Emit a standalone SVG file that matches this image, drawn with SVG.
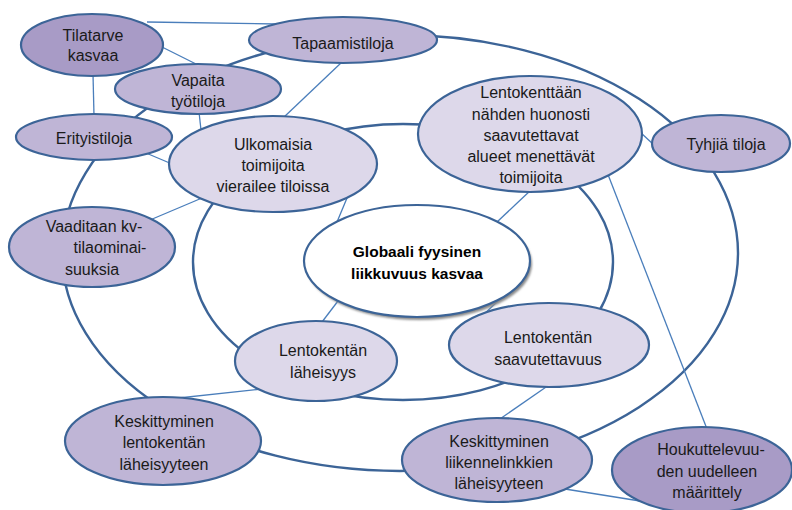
<svg xmlns="http://www.w3.org/2000/svg" width="792" height="510" viewBox="0 0 792 510">
  <style>
    .ring { fill: none; stroke: #3c6497; stroke-width: 2.4; }
    .link { fill: none; stroke: #4a7ebb; stroke-width: 1.3; }
    .node { stroke: #3c6497; stroke-width: 2.2; }
    .dark { fill: #a89bc6; }
    .mid { fill: #bfb5d6; }
    .light { fill: #ddd8ea; }
    .core { fill: #ffffff; }
    text { font-family: "Liberation Sans", Arial, sans-serif; font-size: 16px; fill: #1a1a1a; text-anchor: middle; }
    .bold { font-weight: bold; font-size: 15.5px; fill: #000; }
  </style>
  <defs>
    <filter id="soft" x="-10%" y="-10%" width="120%" height="130%">
      <feGaussianBlur stdDeviation="0.8"/>
    </filter>
  </defs>
  <rect width="792" height="510" fill="#ffffff"/>

  <!-- rings and connectors -->
  <g id="connectors">
    <ellipse class="ring" cx="400" cy="253" rx="338" ry="218"/>
    <ellipse class="ring" cx="403" cy="262" rx="210" ry="138"/>
    <line class="link" x1="147" y1="22" x2="277" y2="24"/>
    <line class="link" x1="158" y1="45" x2="200" y2="66"/>
    <line class="link" x1="93" y1="74" x2="94" y2="116"/>
    <line class="link" x1="199" y1="112" x2="201" y2="130"/>
    <line class="link" x1="342" y1="62" x2="283" y2="118"/>
    <line class="link" x1="146" y1="153" x2="172" y2="164"/>
    <line class="link" x1="202" y1="198" x2="150" y2="220"/>
    <line class="link" x1="347" y1="198" x2="337" y2="222"/>
    <line class="link" x1="531" y1="190" x2="497" y2="222"/>
    <line class="link" x1="640" y1="132" x2="654" y2="145"/>
    <line class="link" x1="607" y1="172" x2="707" y2="429"/>
    <line class="link" x1="338" y1="301" x2="322" y2="322"/>
    <line class="link" x1="501" y1="298" x2="479" y2="319"/>
    <line class="link" x1="262" y1="389" x2="160" y2="400"/>
    <line class="link" x1="549" y1="385" x2="497" y2="421"/>
    <line class="link" x1="565" y1="489" x2="640" y2="501"/>
  </g>

  <g id="tilatarve">
    <ellipse class="node dark" cx="92" cy="45" rx="71" ry="31"/>
    <text x="93" y="41">Tilatarve</text>
    <text x="93" y="61">kasvaa</text>
  </g>

  <g id="tapaamistiloja">
    <ellipse class="node mid" cx="343" cy="40" rx="94" ry="23"/>
    <text x="343" y="49">Tapaamistiloja</text>
  </g>

  <g id="vapaita">
    <ellipse class="node mid" cx="198" cy="89" rx="83" ry="25"/>
    <text x="198" y="86">Vapaita</text>
    <text x="198" y="107">työtiloja</text>
  </g>

  <g id="erityistiloja">
    <ellipse class="node mid" cx="94" cy="137" rx="78" ry="23"/>
    <text x="94" y="144">Erityistiloja</text>
  </g>

  <g id="ulkomaisia">
    <ellipse class="node light" cx="273" cy="164" rx="104" ry="48"/>
    <text x="273" y="150">Ulkomaisia</text>
    <text x="273" y="171">toimijoita</text>
    <text x="273" y="192">vierailee tiloissa</text>
  </g>

  <g id="huonosti-saavutettavat">
    <ellipse class="node light" cx="530" cy="134" rx="112" ry="58"/>
    <text x="531" y="98">Lentokenttään</text>
    <text x="531" y="120">nähden huonosti</text>
    <text x="531" y="141">saavutettavat</text>
    <text x="531" y="162">alueet menettävät</text>
    <text x="531" y="183">toimijoita</text>
  </g>

  <g id="tyhjia">
    <ellipse class="node mid" cx="721" cy="143.5" rx="69" ry="28.5"/>
    <text x="726" y="150">Tyhjiä tiloja</text>
  </g>

  <g id="vaaditaan">
    <ellipse class="node mid" cx="92" cy="247" rx="83" ry="40"/>
    <text x="94" y="232">Vaaditaan kv-</text>
    <text x="110" y="253">tilaominai-</text>
    <text x="92" y="275">suuksia</text>
  </g>

  <g id="globaali">
    <ellipse cx="419" cy="264" rx="113" ry="56" fill="#8a8a8a" filter="url(#soft)"/>
    <ellipse class="node core" cx="417" cy="261" rx="113" ry="56"/>
    <text class="bold" x="417" y="257">Globaali fyysinen</text>
    <text class="bold" x="417" y="279">liikkuvuus kasvaa</text>
  </g>

  <g id="laheisyys">
    <ellipse class="node light" cx="316" cy="361" rx="81" ry="40"/>
    <text x="323" y="356">Lentokentän</text>
    <text x="323" y="378">läheisyys</text>
  </g>

  <g id="saavutettavuus">
    <ellipse class="node light" cx="549" cy="345" rx="100" ry="42"/>
    <text x="548" y="343">Lentokentän</text>
    <text x="548" y="365">saavutettavuus</text>
  </g>

  <g id="keskittyminen-lentokentta">
    <ellipse class="node mid" cx="163" cy="441" rx="98" ry="44"/>
    <text x="164" y="427">Keskittyminen</text>
    <text x="164" y="448">lentokentän</text>
    <text x="164" y="470">läheisyyteen</text>
  </g>

  <g id="keskittyminen-liikennelinkit">
    <ellipse class="node mid" cx="497" cy="460" rx="95" ry="42"/>
    <text x="499" y="447">Keskittyminen</text>
    <text x="499" y="468">liikennelinkkien</text>
    <text x="499" y="489">läheisyyteen</text>
  </g>

  <g id="houkuttelevuus">
    <ellipse class="node dark" cx="702" cy="470" rx="90" ry="43"/>
    <text x="711" y="455">Houkuttelevuu-</text>
    <text x="707" y="477">den uudelleen</text>
    <text x="707" y="498">määrittely</text>
  </g>
</svg>
